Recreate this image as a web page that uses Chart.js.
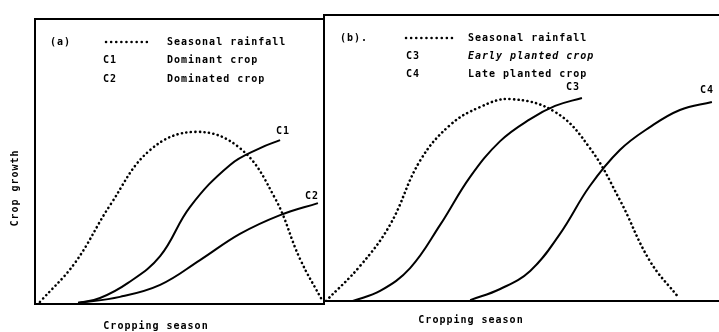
<!DOCTYPE html>
<html>
<head>
<meta charset="utf-8">
<script src="https://cdn.jsdelivr.net/npm/chart.js@4"></script>
<style>
  html, body { margin: 0; padding: 0; background: #fff; }
  #wrap { position: relative; width: 719px; height: 332px; overflow: hidden; }
  #wrap canvas { position: absolute; left: 0; top: 0; }
</style>
</head>
<body>
<div id="wrap">
  <canvas id="ca" width="719" height="332"></canvas>
  <canvas id="cb" width="719" height="332"></canvas>
</div>
<script>
// ---------- Panel (a) data (season position 0-100, growth 0-100) ----------
const rainA_x = [1.7, 13.8, 26.0, 39.8, 55.4, 70.9, 83.0, 91.7, 99.3];
const rainA_y = [0.7, 14.4, 34.7, 54.0, 60.4, 54.7, 37.2, 15.8, 1.4];
const c1_x = [14.9, 22.5, 32.2, 43.3, 53.6, 67.5, 77.9, 84.8];
const c1_y = [0.4, 2.1, 7.4, 16.8, 34.0, 48.8, 54.7, 57.5];
const c2_x = [14.9, 29.4, 43.3, 57.1, 70.9, 84.8, 97.9];
const c2_y = [0.4, 2.5, 6.7, 15.4, 24.6, 31.2, 35.4];

// ---------- Panel (b) data ----------
const rainB_x = [0.5, 9.1, 16.7, 24.3, 31.9, 39.5, 47.1, 58.5, 67.3, 74.9, 82.5, 89.9];
const rainB_y = [0.0, 12.2, 26.6, 49.0, 61.5, 67.8, 70.6, 66.1, 53.5, 35.3, 14.0, 1.0];
const c3_x = [7.3, 14.2, 21.8, 29.4, 37.0, 44.6, 52.2, 58.5, 65.3];
const c3_y = [0.0, 3.5, 11.5, 26.6, 43.4, 55.9, 63.6, 68.2, 71.0];
const c4_x = [37.0, 44.6, 52.2, 59.7, 67.3, 74.9, 82.5, 90.1, 98.2];
const c4_y = [0.3, 4.2, 10.5, 23.4, 40.2, 52.8, 60.8, 66.8, 69.6];

// ---------- Texts ----------
const legendA = { tag: "(a)", rows: [["", "Seasonal rainfall"], ["C1", "Dominant crop"], ["C2", "Dominated crop"]] };
const legendB = { tag: "(b).", rows: [["", "Seasonal rainfall"], ["C3", "Early planted crop"], ["C4", "Late planted crop"]] };
const yTitle = "Crop growth";
const xTitle = "Cropping season";

function pts(xs, ys) { return xs.map((x, i) => ({ x: x, y: ys[i] })); }

const FONT = "bold 10px 'DejaVu Sans Mono', 'Liberation Mono', monospace";
const FONT_I = "italic bold 10px 'DejaVu Sans Mono', 'Liberation Mono', monospace";

function txt(ctx, s, x, y, font, align) {
  ctx.save();
  ctx.font = font || FONT;
  try { ctx.letterSpacing = "1px"; } catch (e) {}
  ctx.fillStyle = "#000";
  ctx.textBaseline = "middle";
  ctx.textAlign = align || "left";
  ctx.fillText(s, x, y);
  ctx.restore();
}
function dotted(ctx, x1, x2, y) {
  ctx.save();
  ctx.strokeStyle = "#000";
  ctx.lineWidth = 2.5;
  ctx.lineCap = "round";
  ctx.setLineDash([0.1, 5]);
  ctx.beginPath(); ctx.moveTo(x1, y); ctx.lineTo(x2, y); ctx.stroke();
  ctx.restore();
}

const rainStyle = { borderColor: "#000", borderWidth: 2.6, borderDash: [0.1, 4.4], borderCapStyle: "round", pointRadius: 0, fill: false, tension: 0.4 };
const cropStyle = { borderColor: "#000", borderWidth: 2, pointRadius: 0, fill: false, tension: 0.4 };

function scales() {
  return {
    x: { type: "linear", min: 0, max: 100, display: false },
    y: { type: "linear", min: 0, max: 100, display: false }
  };
}

const panelA = {
  id: "panelA",
  afterDraw(chart) {
    const ctx = chart.ctx, a = chart.chartArea;
    ctx.save();
    ctx.strokeStyle = "#000"; ctx.lineWidth = 2;
    ctx.strokeRect(a.left, a.top, a.right - a.left, a.bottom - a.top);
    ctx.restore();
    txt(ctx, legendA.tag, 50, 42);
    dotted(ctx, 106, 147, 42);
    txt(ctx, legendA.rows[0][1], 167, 42);
    txt(ctx, legendA.rows[1][0], 103, 60);
    txt(ctx, legendA.rows[1][1], 167, 60);
    txt(ctx, legendA.rows[2][0], 103, 79);
    txt(ctx, legendA.rows[2][1], 167, 79);
    txt(ctx, "C1", 276, 131);
    txt(ctx, "C2", 305, 196);
    ctx.save();
    ctx.translate(15, 188);
    ctx.rotate(-Math.PI / 2);
    txt(ctx, yTitle, 0, 0, FONT, "center");
    ctx.restore();
    txt(ctx, xTitle, 156, 326, FONT, "center");
  }
};

const panelB = {
  id: "panelB",
  afterDraw(chart) {
    const ctx = chart.ctx, a = chart.chartArea;
    ctx.save();
    ctx.strokeStyle = "#000"; ctx.lineWidth = 2;
    ctx.beginPath();
    ctx.moveTo(a.right + 2, a.top); ctx.lineTo(a.left, a.top); ctx.lineTo(a.left, a.bottom); ctx.lineTo(a.right + 2, a.bottom);
    ctx.stroke();
    ctx.restore();
    txt(ctx, legendB.tag, 340, 38);
    dotted(ctx, 406, 453, 38);
    txt(ctx, legendB.rows[0][1], 468, 38);
    txt(ctx, legendB.rows[1][0], 406, 56);
    txt(ctx, legendB.rows[1][1], 468, 56, FONT_I);
    txt(ctx, legendB.rows[2][0], 406, 74);
    txt(ctx, legendB.rows[2][1], 468, 74);
    txt(ctx, "C3", 566, 87);
    txt(ctx, "C4", 700, 90);
    txt(ctx, xTitle, 471, 320, FONT, "center");
  }
};

const common = {
  responsive: false,
  animation: false,
  devicePixelRatio: 1,
  plugins: { legend: { display: false }, tooltip: { enabled: false } },
  scales: scales()
};

new Chart(document.getElementById("ca"), {
  type: "line",
  data: { datasets: [
    Object.assign({ label: "Seasonal rainfall", data: pts(rainA_x, rainA_y) }, rainStyle),
    Object.assign({ label: "C1 Dominant crop", data: pts(c1_x, c1_y) }, cropStyle),
    Object.assign({ label: "C2 Dominated crop", data: pts(c2_x, c2_y) }, cropStyle)
  ] },
  options: Object.assign({}, common, { layout: { padding: { left: 35, top: 19, right: 719 - 324, bottom: 332 - 304 } } }),
  plugins: [panelA]
});

new Chart(document.getElementById("cb"), {
  type: "line",
  data: { datasets: [
    Object.assign({ label: "Seasonal rainfall", data: pts(rainB_x, rainB_y) }, rainStyle),
    Object.assign({ label: "C3 Early planted crop", data: pts(c3_x, c3_y) }, cropStyle),
    Object.assign({ label: "C4 Late planted crop", data: pts(c4_x, c4_y) }, cropStyle)
  ] },
  options: Object.assign({}, common, { layout: { padding: { left: 324, top: 15, right: 0, bottom: 332 - 301 } } }),
  plugins: [panelB]
});
</script>
</body>
</html>
